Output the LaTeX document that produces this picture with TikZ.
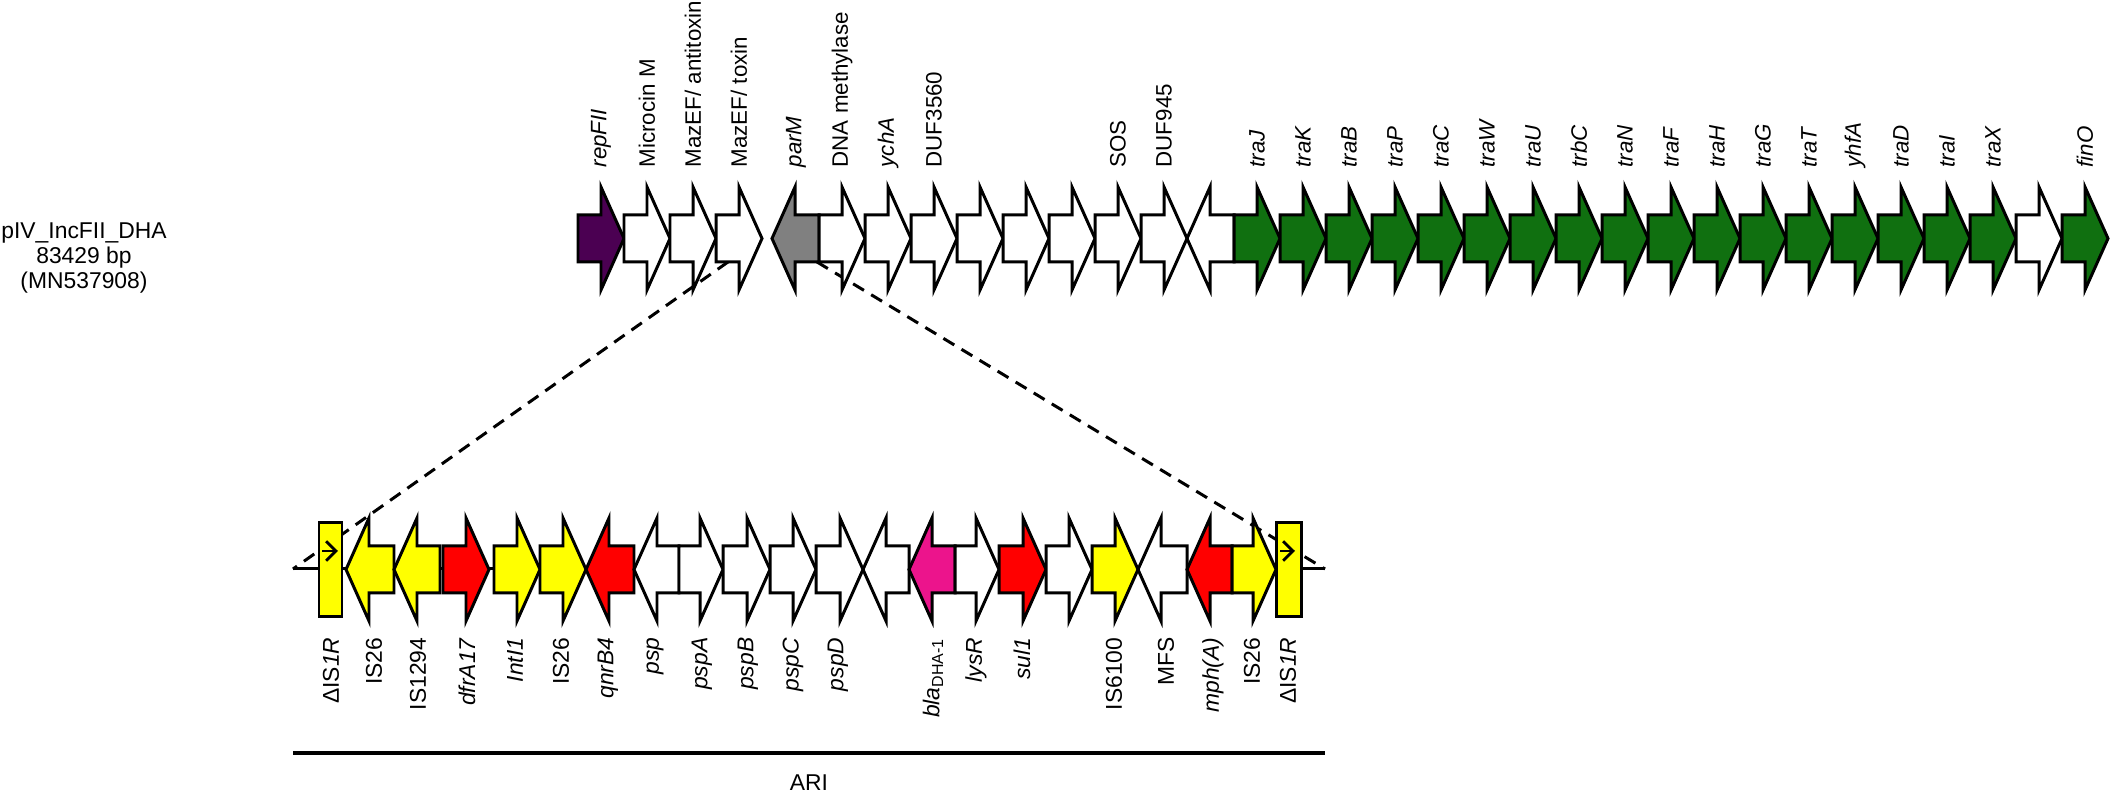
\documentclass[tikz,border=0pt]{standalone}
\usepackage{fontspec}
\setmainfont{Liberation Sans}
\usetikzlibrary{arrows.meta}
\definecolor{gpurple}{RGB}{75,0,82}
\definecolor{ggreen}{RGB}{16,112,16}
\definecolor{ggrey}{RGB}{128,128,128}
\definecolor{gyellow}{RGB}{255,255,0}
\definecolor{gred}{RGB}{255,0,0}
\definecolor{gpink}{RGB}{236,20,140}
\newcommand\rgene[4]{\draw[gene,fill=#4] (#1,{#3-23.5}) -- ({#2-23},{#3-23.5}) -- ({#2-23},{#3-51.5}) -- (#2,#3) -- ({#2-23},{#3+51.5}) -- ({#2-23},{#3+23.5}) -- (#1,{#3+23.5}) -- cycle;}
\newcommand\lgene[4]{\draw[gene,fill=#4] (#2,{#3-23.5}) -- ({#1+23},{#3-23.5}) -- ({#1+23},{#3-51.5}) -- (#1,#3) -- ({#1+23},{#3+51.5}) -- ({#1+23},{#3+23.5}) -- (#2,{#3+23.5}) -- cycle;}
\begin{document}
\begin{tikzpicture}[x=0.01cm,y=-0.01cm,
  every node/.style={font=\fontsize{6.5pt}{7pt}\selectfont, inner sep=0pt},
  gene/.style={draw=black, line width=0.85pt, line join=miter},
  toplab/.style={rotate=90, anchor=west, font=\fontsize{6.35pt}{7pt}\selectfont},
  botlab/.style={rotate=90, anchor=east},
  zoomline/.style={line width=0.85pt, dash pattern=on 3.6pt off 2.4pt},
  backbone/.style={line width=0.85pt},
  inarrow/.style={line width=0.8pt, -{Straight Barb[length=2.8pt,width=5.5pt,line width=0.8pt]}}]
\useasboundingbox (0,0) rectangle (2114,795);

% left label
\node[align=center] (plasmid) at (84,258) {pIV\_IncFII\_DHA\\83429 bp\\(MN537908)};

% zoom coordinates
\coordinate (zl1) at (728,262);
\coordinate (zl2) at (293,569);
\coordinate (zr1) at (817,262);
\coordinate (zr2) at (1325,569);

% backbone (bottom)
\draw[backbone] (zl2) -- (zr2);
% dashed zoom lines
\draw[zoomline] (zl1) -- (zl2);
\draw[zoomline] (zr1) -- (zr2);

% ---------- top row ----------
\rgene{578}{624}{238.5}{gpurple}
\rgene{624}{670}{238.5}{white}
\rgene{670}{716}{238.5}{white}
\rgene{716}{762}{238.5}{white}
\lgene{772}{819}{238.5}{ggrey}
\foreach \k in {0,...,7}{
  \pgfmathsetmacro\xa{819+46*\k}\pgfmathsetmacro\xb{865+46*\k}
  \rgene{\xa}{\xb}{238.5}{white}}
\lgene{1187}{1234}{238.5}{white}
\foreach \k in {0,...,18}{
  \pgfmathsetmacro\xa{1234+46*\k}\pgfmathsetmacro\xb{1280+46*\k}
  \ifnum\k=17 \rgene{\xa}{\xb}{238.5}{white}\else\rgene{\xa}{\xb}{238.5}{ggreen}\fi}

% top labels
\node[toplab] (t1) at (601,168) {\textit{repFII}};
\node[toplab] (t2) at (647,168) {Microcin M};
\node[toplab] (t3) at (693,168) {MazEF/ antitoxin};
\node[toplab] (t4) at (739,168) {MazEF/ toxin};
\node[toplab] (t5) at (796,168) {\textit{parM}};
\node[toplab] (t6) at (842,168) {DNA methylase};
\node[toplab] (t7) at (888,168) {\textit{ychA}};
\node[toplab] (t8) at (934,168) {DUF3560};
\node[toplab] (t9) at (1118,168) {SOS};
\node[toplab] (t10) at (1164,168) {DUF945};
\foreach \lab [count=\i from 0] in {traJ,traK,traB,traP,traC,traW,traU,trbC,traN,traF,traH,traG,traT,yhfA,traD,traI,traX}{
  \pgfmathsetmacro\xl{1257+46*\i}
  \node[toplab] (tra\i) at (\xl,168) {\textit{\lab}};}
\node[toplab] (t11) at (2085,168) {\textit{finO}};

% ---------- bottom row ----------
\draw[gene,fill=gyellow] (319,523) rectangle (342,617);
\lgene{346}{394}{569.5}{gyellow}
\lgene{394}{440}{569.5}{gyellow}
\rgene{443}{489}{569.5}{gred}
\rgene{494}{540}{569.5}{gyellow}
\rgene{540}{586}{569.5}{gyellow}
\lgene{586}{634}{569.5}{gred}
\lgene{634}{679}{569.5}{white}
\rgene{679}{723}{569.5}{white}
\rgene{723}{770}{569.5}{white}
\rgene{770}{816}{569.5}{white}
\rgene{816}{863}{569.5}{white}
\lgene{863}{909}{569.5}{white}
\lgene{909}{955}{569.5}{gpink}
\rgene{955}{999}{569.5}{white}
\rgene{999}{1046}{569.5}{gred}
\rgene{1046}{1092}{569.5}{white}
\rgene{1092}{1138}{569.5}{gyellow}
\lgene{1138}{1187}{569.5}{white}
\lgene{1187}{1232}{569.5}{gred}
\rgene{1232}{1276}{569.5}{gyellow}
\draw[gene,fill=gyellow] (1276,523) rectangle (1301,617);
\coordinate (ia1) at (322,551); \coordinate (ia2) at (338,551);
\coordinate (ib1) at (1280,551); \coordinate (ib2) at (1295,551);
\draw[inarrow] (ia1) -- (ia2);
\draw[inarrow] (ib1) -- (ib2);

% bottom labels
\node[botlab] (b1) at (331,637) {ΔIS\textit{1R}};
\node[botlab] (b2) at (374,637) {IS26};
\node[botlab] (b3) at (418,637) {IS1294};
\node[botlab] (b4) at (467,637) {\textit{dfrA17}};
\node[botlab] (b5) at (515,637) {\textit{IntI1}};
\node[botlab] (b6) at (561,637) {IS26};
\node[botlab] (b7) at (608,637) {\textit{qnrB4}};
\node[botlab] (b8) at (655,637) {\textit{psp}};
\node[botlab] (b9) at (702,637) {\textit{pspA}};
\node[botlab] (b10) at (748,637) {\textit{pspB}};
\node[botlab] (b11) at (793,637) {\textit{pspC}};
\node[botlab] (b12) at (838,637) {\textit{pspD}};
\node[botlab] (b13) at (933,637) {\textit{bla}\textsubscript{DHA-1}};
\node[botlab] (b14) at (976,637) {\textit{lysR}};
\node[botlab] (b15) at (1022,637) {\textit{sul1}};
\node[botlab] (b16) at (1114,637) {IS6100};
\node[botlab] (b17) at (1166,637) {MFS};
\node[botlab] (b18) at (1213,637) {\textit{mph(A)}};
\node[botlab] (b19) at (1252,637) {IS26};
\node[botlab] (b20) at (1288,637) {ΔIS\textit{1R}};

% ARI bar
\coordinate (ari1) at (293,753); \coordinate (ari2) at (1325,753);
\draw[line width=1.1pt] (ari1) -- (ari2);
\node (ari) at (809,783) {ARI};
\end{tikzpicture}
\end{document}
